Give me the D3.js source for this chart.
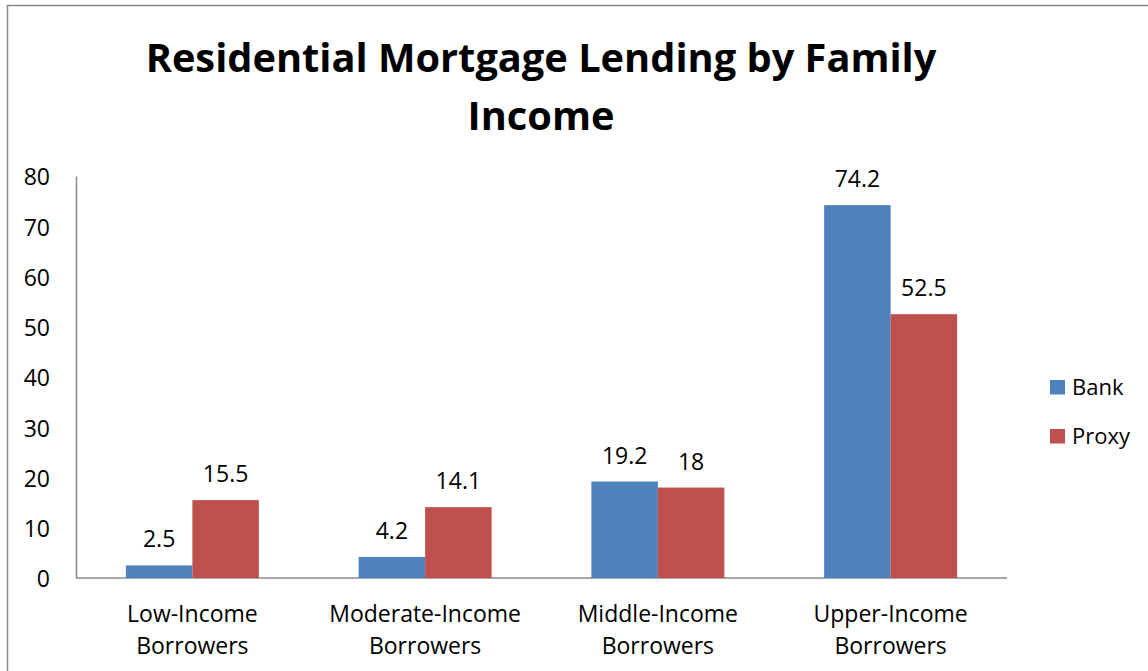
<!DOCTYPE html>
<html>
<head>
<meta charset="utf-8">
<script src="https://cdn.jsdelivr.net/npm/d3@7"></script>
<style>
  html, body { margin: 0; padding: 0; background: #fff; }
  svg { display: block; font-family: "Open Sans", Lato, sans-serif; }
</style>
</head>
<body>
<svg id="chart" width="1148" height="671"></svg>
<script>
// Chart data
const categories = [
  ["Low-Income", "Borrowers"],
  ["Moderate-Income", "Borrowers"],
  ["Middle-Income", "Borrowers"],
  ["Upper-Income", "Borrowers"]
];
const seriesNames = ["Bank", "Proxy"];
const bankValues = [2.5, 4.2, 19.2, 74.2];
const proxyValues = [15.5, 14.1, 18, 52.5];
const yTicks = [0, 10, 20, 30, 40, 50, 60, 70, 80];
const titleLines = ["Residential Mortgage Lending by Family", "Income"];

const colors = { Bank: "#4F81BD", Proxy: "#C0504D" };
const series = [
  { name: seriesNames[0], values: bankValues },
  { name: seriesNames[1], values: proxyValues }
];
const FONT = "'Open Sans', Lato, sans-serif";
const LABEL_SIZE = 23;

const svg = d3.select("#chart");

// Outer chart border
svg.append("rect")
  .attr("x", 7.5).attr("y", 5.5)
  .attr("width", 1150).attr("height", 700)
  .attr("fill", "none").attr("stroke", "#888").attr("stroke-width", 1.5);

const plot = { left: 76, right: 1007, top: 176, bottom: 578 };

const x = d3.scaleBand()
  .domain(d3.range(categories.length))
  .range([plot.left, plot.right])
  .paddingInner(0).paddingOuter(0);

const groupPad = x.bandwidth() * 0.2143; // gap width 150%
const xs = d3.scaleBand()
  .domain(seriesNames)
  .range([groupPad, x.bandwidth() - groupPad]);

const y = d3.scaleLinear().domain([0, 80]).range([plot.bottom, plot.top]);

// Title, sized so the first line spans its intended width
const title = svg.append("g").selectAll("text")
  .data(titleLines).join("text")
  .attr("x", 541).attr("y", (d, i) => 72 + i * 57.5)
  .attr("text-anchor", "middle")
  .attr("font-size", 40).attr("font-weight", "bold")
  .attr("fill", "#000")
  .text(d => d);
const firstLen = title.nodes()[0].getComputedTextLength();
const titleSize = Math.min(44, 40 * 791 / firstLen);
title.attr("font-size", titleSize);

// Y axis
const yAxis = svg.append("g")
  .attr("transform", `translate(${plot.left},0)`)
  .call(d3.axisLeft(y).tickValues(yTicks).tickSize(0).tickPadding(26));
yAxis.select(".domain").attr("stroke", "#888").attr("stroke-width", 1.5);
yAxis.selectAll("text")
  .attr("font-size", LABEL_SIZE).attr("fill", "#000")
  .attr("font-family", FONT).attr("dy", "0.38em");

// X axis baseline
svg.append("line")
  .attr("x1", plot.left).attr("x2", plot.right)
  .attr("y1", y(0)).attr("y2", y(0))
  .attr("stroke", "#888").attr("stroke-width", 1.5);

// Bars
const groups = svg.append("g").selectAll("g")
  .data(categories.map((c, i) => i)).join("g")
  .attr("transform", i => `translate(${x(i)},0)`);

groups.selectAll("rect")
  .data(i => series.map(s => ({ name: s.name, value: s.values[i] })))
  .join("rect")
  .attr("x", d => xs(d.name))
  .attr("width", xs.bandwidth())
  .attr("y", d => y(d.value))
  .attr("height", d => y(0) - y(d.value))
  .attr("fill", d => colors[d.name]);

// Value labels
groups.selectAll("text.val")
  .data(i => series.map(s => ({ name: s.name, value: s.values[i] })))
  .join("text")
  .attr("class", "val")
  .attr("x", d => xs(d.name) + xs.bandwidth() / 2)
  .attr("y", d => y(d.value) - 18)
  .attr("text-anchor", "middle")
  .attr("font-size", LABEL_SIZE).attr("fill", "#000")
  .text(d => d.value);

// Category labels
groups.append("text")
  .attr("x", x.bandwidth() / 2)
  .attr("text-anchor", "middle")
  .attr("font-size", LABEL_SIZE).attr("fill", "#000")
  .selectAll("tspan")
  .data(i => categories[i]).join("tspan")
  .attr("x", x.bandwidth() / 2)
  .attr("y", (d, k) => 622 + k * 31.5)
  .text(d => d);

// Legend
const legend = svg.append("g").selectAll("g")
  .data(seriesNames).join("g")
  .attr("transform", (d, i) => `translate(1050,${380 + i * 49})`);
legend.append("rect")
  .attr("width", 15).attr("height", 14.5)
  .attr("fill", d => colors[d]);
legend.append("text")
  .attr("x", 22).attr("y", 15)
  .attr("font-size", 22).attr("fill", "#000")
  .text(d => d);
</script>
</body>
</html>
